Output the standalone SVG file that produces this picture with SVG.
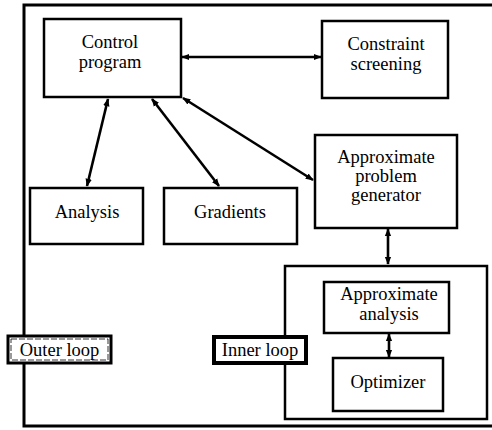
<svg xmlns="http://www.w3.org/2000/svg" width="492" height="430" viewBox="0 0 492 430">
<defs>
<style>
.box{fill:#fff;stroke:#000;stroke-width:2.5}
.frame{fill:none;stroke:#000;stroke-width:3}
.t{font-family:'Liberation Serif','DejaVu Serif','Times New Roman',serif;font-size:18.5px;fill:#000;text-anchor:middle}
.c{stroke:#000;stroke-width:2.6;fill:none;marker-start:url(#ah);marker-end:url(#ah)}
</style>
<marker id="ah" viewBox="0 0 10 10" refX="9" refY="5" markerWidth="8" markerHeight="8" markerUnits="userSpaceOnUse" orient="auto-start-reverse">
<path d="M0,1 L10,5 L0,9 z" fill="#000"/>
</marker>
</defs>
<rect width="492" height="430" fill="#fff"/>
<g id="outer-frame">
<path class="frame" d="M492,5 L24,5 L24,426 L492,426"/>
</g>
<g id="inner-frame">
<rect x="285" y="266" width="202" height="153" fill="none" stroke="#000" stroke-width="2.5"/>
</g>
<g id="connectors">
<line class="c" x1="182" y1="57" x2="321" y2="57"/>
<line class="c" x1="108" y1="99" x2="87" y2="186"/>
<line class="c" x1="152" y1="99" x2="219" y2="186"/>
<line class="c" x1="183" y1="98" x2="313" y2="180"/>
<line class="c" x1="388" y1="229" x2="388" y2="264"/>
<line class="c" x1="389" y1="334" x2="389" y2="357"/>
</g>
<g id="control-program">
<rect class="box" x="44" y="19" width="137" height="78"/>
<text class="t" x="110" y="48">Control</text>
<text class="t" x="110" y="68">program</text>
</g>
<g id="constraint-screening">
<rect class="box" x="322" y="21" width="126" height="77"/>
<text class="t" x="386" y="50">Constraint</text>
<text class="t" x="386" y="70">screening</text>
</g>
<g id="analysis">
<rect class="box" x="30" y="188" width="113" height="56"/>
<text class="t" x="87" y="218">Analysis</text>
</g>
<g id="gradients">
<rect class="box" x="164" y="188" width="133" height="56"/>
<text class="t" x="230" y="218">Gradients</text>
</g>
<g id="approximate-problem-generator">
<rect class="box" x="315" y="135" width="142" height="93"/>
<text class="t" x="386" y="163">Approximate</text>
<text class="t" x="386" y="182">problem</text>
<text class="t" x="386" y="201">generator</text>
</g>
<g id="approximate-analysis">
<rect class="box" x="324" y="282" width="125" height="51"/>
<text class="t" x="389" y="300">Approximate</text>
<text class="t" x="389" y="320">analysis</text>
</g>
<g id="optimizer">
<rect class="box" x="333" y="358" width="110" height="53"/>
<text class="t" x="388" y="388">Optimizer</text>
</g>
<g id="outer-loop-label">
<rect x="8" y="336" width="103" height="27" fill="#fff" stroke="#000" stroke-width="3"/>
<rect x="11" y="339" width="97" height="21" fill="none" stroke="#000" stroke-width="0.8" stroke-dasharray="6 2"/>
<text class="t" x="59.5" y="356">Outer loop</text>
</g>
<g id="inner-loop-label">
<rect x="214" y="337" width="92" height="26" fill="#fff" stroke="#000" stroke-width="4"/>
<text class="t" x="260" y="356">Inner loop</text>
</g>
</svg>
